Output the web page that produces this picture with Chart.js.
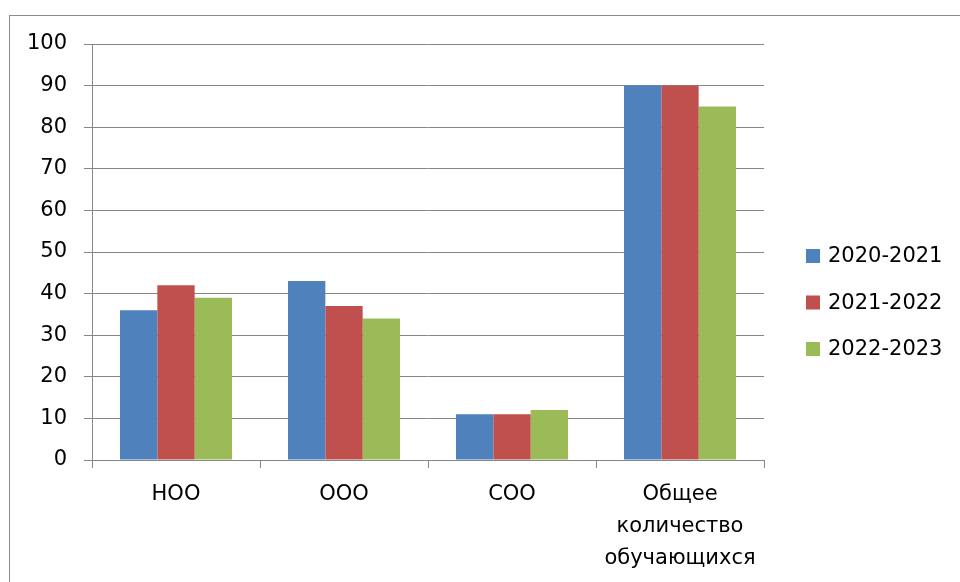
<!DOCTYPE html>
<html>
<head>
<meta charset="utf-8">
<script src="https://cdn.jsdelivr.net/npm/chart.js@4"></script>
<style>
html,body{margin:0;padding:0;background:#fff;}
#wrap{width:960px;height:582px;position:relative;}
</style>
</head>
<body>
<div id="wrap"><canvas id="c" width="960" height="582"></canvas></div>
<script>
const categories = ["НОО", "ООО", "СОО", ["Общее", "количество", "обучающихся"]];
const seriesNames = ["2020-2021", "2021-2022", "2022-2023"];
const values2020 = [36, 43, 11, 90];
const values2021 = [42, 37, 11, 90];
const values2022 = [39, 34, 12, 85];
const yTicks = [0, 10, 20, 30, 40, 50, 60, 70, 80, 90, 100];

const colors = ["#4F81BD", "#C0504D", "#9BBB59"];
const FONT = "'DejaVu Sans', sans-serif";
const GRID = '#868686';

const borderPlugin = {
  id: 'outerBorder',
  beforeDraw(chart) {
    const ctx = chart.ctx;
    ctx.save();
    ctx.fillStyle = '#fff';
    ctx.fillRect(0, 0, chart.width, chart.height);
    ctx.strokeStyle = '#8c8c8c';
    ctx.lineWidth = 1;
    ctx.strokeRect(9.5, 15.5, 1200, 1200);
    ctx.restore();
  }
};

const legendPlugin = {
  id: 'customLegend',
  afterDraw(chart) {
    const ctx = chart.ctx;
    ctx.save();
    ctx.font = "21px " + FONT;
    ctx.textBaseline = 'middle';
    ctx.textAlign = 'left';
    const x0 = 806, startY = 256, step = 46.5, box = 14;
    chart.data.datasets.forEach((ds, i) => {
      const y = startY + i * step;
      ctx.fillStyle = ds.backgroundColor;
      ctx.fillRect(x0, y - box / 2, box, box);
      ctx.fillStyle = '#000';
      ctx.fillText(ds.label, x0 + 22, y + 1);
    });
    ctx.restore();
  }
};

new Chart(document.getElementById('c'), {
  type: 'bar',
  data: {
    labels: categories,
    datasets: [
      { label: seriesNames[0], data: values2020, backgroundColor: colors[0] },
      { label: seriesNames[1], data: values2021, backgroundColor: colors[1] },
      { label: seriesNames[2], data: values2022, backgroundColor: colors[2] }
    ]
  },
  options: {
    responsive: false,
    animation: false,
    devicePixelRatio: 1,
    layout: { padding: { left: 10, top: 44, right: 196, bottom: 0 } },
    datasets: { bar: { categoryPercentage: 3 / 4.5, barPercentage: 1.0, borderWidth: 0 } },
    plugins: {
      legend: { display: false },
      tooltip: { enabled: false }
    },
    scales: {
      x: {
        offset: true,
        grid: {
          offset: true,
          drawOnChartArea: false,
          drawTicks: true,
          tickLength: 8,
          color: GRID,
          lineWidth: 1
        },
        border: { display: true, color: GRID, width: 1 },
        ticks: {
          color: '#000',
          font: { family: FONT, size: 21, lineHeight: 32 / 21 },
          padding: 11,
          maxRotation: 0,
          autoSkip: false
        },
        afterFit(scale) { scale.height = 122; }
      },
      y: {
        min: 0,
        max: 100,
        afterBuildTicks(scale) { scale.ticks = yTicks.map(v => ({ value: v })); },
        grid: {
          drawTicks: true,
          tickLength: 8,
          color: GRID,
          lineWidth: 1
        },
        border: { display: true, color: GRID, width: 1 },
        ticks: {
          color: '#000',
          font: { family: FONT, size: 21 },
          padding: 17
        },
        afterFit(scale) { scale.width = 82; }
      }
    }
  },
  plugins: [borderPlugin, legendPlugin]
});
</script>
</body>
</html>
